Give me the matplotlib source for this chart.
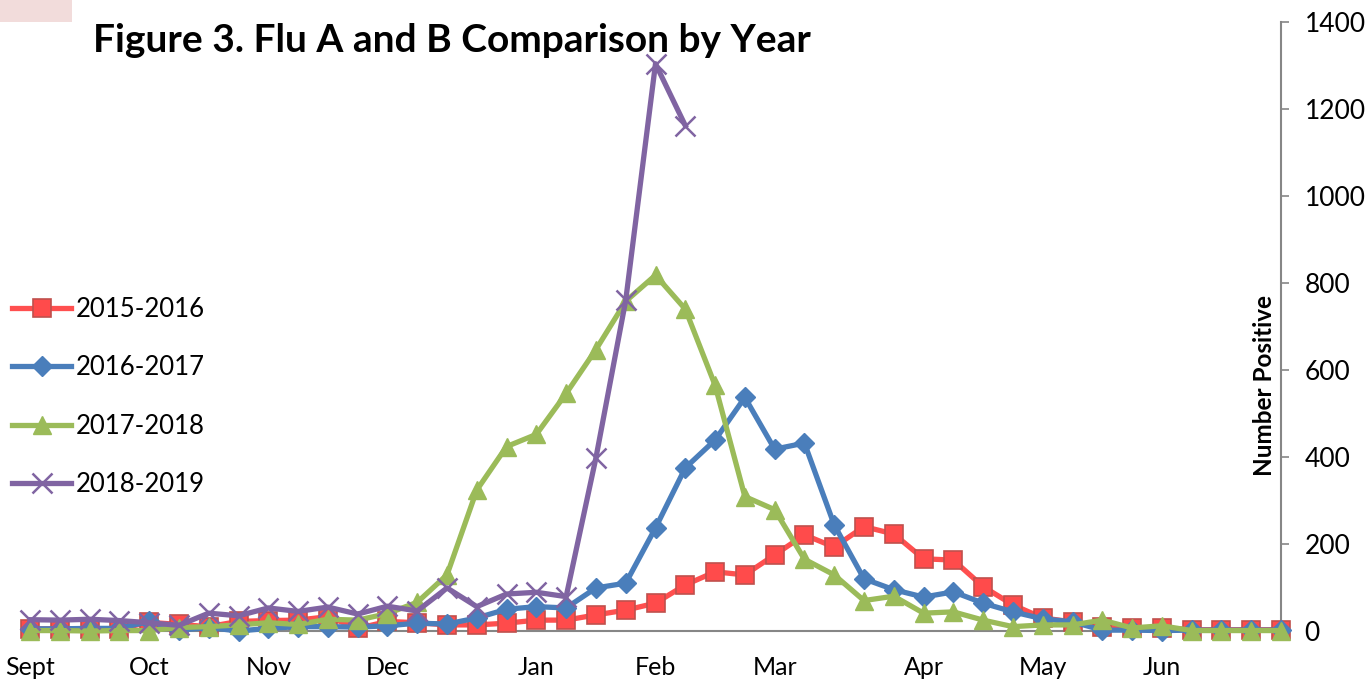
import matplotlib
matplotlib.use("Agg")
import matplotlib.pyplot as plt
from matplotlib.patches import Rectangle
import numpy as np

plt.rcParams['font.family'] = ['Lato', 'DejaVu Sans']

# ---- data ----
weeks = list(range(43))
month_labels = ["Sept", "Oct", "Nov", "Dec", "Jan", "Feb", "Mar", "Apr", "May", "Jun"]
month_pos = [0, 4, 8, 12, 17, 21, 25, 30, 34, 38]

s2015_16 = [5, 5, 5, 5, 20, 15, 10, 22, 24, 25, 33, 6, 22, 19, 14, 14, 18, 25, 25, 37,
            48, 64, 106, 136, 129, 175, 221, 193, 240, 223, 166, 163, 102, 60, 30, 21,
            10, 7, 7, 3, 3, 3, 3]
s2016_17 = [5, 5, 6, 6, 22, 2, 8, 0, 6, 10, 10, 9, 12, 18, 16, 30, 50, 56, 53, 99,
            110, 237, 375, 439, 537, 418, 432, 244, 120, 95, 78, 90, 64, 44, 28, 21,
            2, 2, 1, 2, 2, 2, 2]
s2017_18 = [1, 1, 0, 1, 1, 8, 10, 14, 19, 15, 27, 25, 40, 66, 129, 324, 424, 452, 546,
            647, 758, 818, 740, 565, 309, 279, 165, 129, 70, 80, 41, 44, 25, 10, 14, 14,
            25, 7, 12, 1, 1, 1, 1]
s2018_19 = [26, 25, 27, 24, 19, 13, 41, 35, 53, 45, 55, 39, 57, 46, 99, 56, 85, 89, 79,
            398, 760, 1304, 1162]
y_ticks = [0, 200, 400, 600, 800, 1000, 1200, 1400]

series_names = ["2015-2016", "2016-2017", "2017-2018", "2018-2019"]

W, H = 1372, 679
fig = plt.figure(figsize=(W / 100, H / 100), dpi=100)
fig.patches.append(Rectangle((0, 1 - 22 / H), 72 / W, 22 / H, transform=fig.transFigure,
                             facecolor="#F2DCDB", edgecolor="none"))

ax = fig.add_axes([30 / W, 48 / H, (1281 - 30) / W, (631 - 22) / H])

red = "#FF4F4F"
blue = "#4A7EBB"
green = "#9BBB59"
purple = "#8064A2"

ax.plot(weeks, s2015_16, color=red, lw=3.8, marker="s", ms=13, mfc="#FF4B4B",
        mec="#C0504D", mew=1.2, clip_on=False, label=series_names[0], zorder=3)
ax.plot(weeks, s2016_17, color=blue, lw=3.8, marker="D", ms=10, mfc=blue,
        mec=blue, clip_on=False, label=series_names[1], zorder=4)
ax.plot(weeks, s2017_18, color=green, lw=3.8, marker="^", ms=13, mfc=green,
        mec=green, clip_on=False, label=series_names[2], zorder=5)
ax.plot(weeks[:len(s2018_19)], s2018_19, color=purple, lw=3.8, marker="x", ms=14,
        mec=purple, mew=1.8, clip_on=False, label=series_names[3], zorder=6)

ax.set_xlim(0, 42)
ax.set_ylim(0, 1400)

for sp in ["left", "top"]:
    ax.spines[sp].set_visible(False)
for sp in ["bottom", "right"]:
    ax.spines[sp].set_color("#868686")
    ax.spines[sp].set_linewidth(1.5)

ax.yaxis.tick_right()
ax.set_yticks(y_ticks)
ax.set_yticklabels([str(v) for v in y_ticks], fontsize=19)
ax.tick_params(axis="y", direction="out", length=6, width=1.2, color="#868686", pad=11)

ax.set_xticks(month_pos)
ax.set_xticklabels(month_labels, fontsize=18)
ax.tick_params(axis="x", length=0, pad=18)

fig.text(1265 / W, 1 - 385 / H, "Number Positive", rotation=90, fontsize=17.5,
         fontweight="bold", ha="center", va="center")

fig.text(93 / W, 1 - 40 / H, "Figure 3. Flu A and B Comparison by Year", fontsize=28,
         fontweight="bold", ha="left", va="center")

leg = fig.legend(loc="upper left", bbox_to_anchor=(12 / W, 1 - 297 / H), frameon=False,
                 fontsize=18.5, handlelength=2.3, handletextpad=0.2, labelspacing=1.3,
                 borderpad=0, borderaxespad=0)

fig.savefig("out.png", dpi=100)
